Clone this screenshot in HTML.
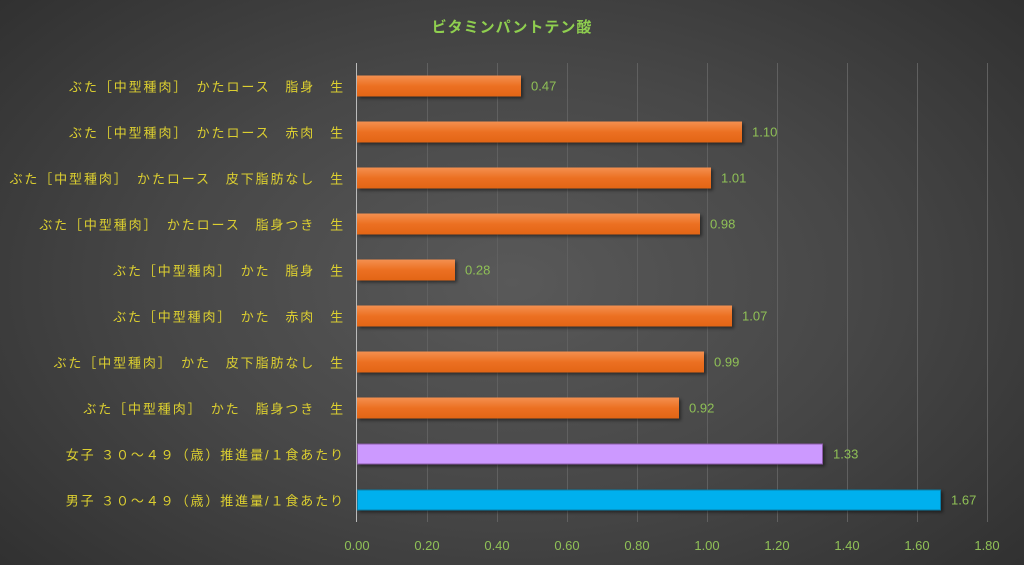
<!DOCTYPE html>
<html><head><meta charset="utf-8"><style>
html,body{margin:0;padding:0}
body{width:1024px;height:565px;overflow:hidden;background:radial-gradient(ellipse 75% 85% at 50% 50%,#595959 0%,#474747 45%,#2b2b2b 100%);font-family:"Liberation Sans","Noto Sans CJK JP",sans-serif;position:relative}
.t{position:absolute;left:0;width:1024px;top:16px;text-align:center;color:#8fcf4f;font-size:15px;font-weight:bold;letter-spacing:1px}
.g{position:absolute;top:63px;height:459px;width:1px;background:#606060}
.lab{position:absolute;right:679px;color:#dccf30;font-size:13px;letter-spacing:1.9px;white-space:nowrap;transform:translateY(-50%)}
.bar{position:absolute;left:357px;height:21px;transform:translateY(-50%);box-shadow:2px 2px 3px rgba(0,0,0,.45)}
.o{background:linear-gradient(#f49050,#ec7022 50%,#e26515)}
.v{position:absolute;color:#8fc056;font-size:13px;transform:translateY(-50%)}
.x{position:absolute;top:538px;color:#8fc056;font-size:13px;transform:translateX(-50%)}
</style></head><body>
<div class="t">ビタミンパントテン酸</div>
<div class="g" style="left:427px"></div><div class="g" style="left:497px"></div><div class="g" style="left:567px"></div><div class="g" style="left:637px"></div><div class="g" style="left:707px"></div><div class="g" style="left:777px"></div><div class="g" style="left:847px"></div><div class="g" style="left:917px"></div><div class="g" style="left:987px"></div>
<div class="g" style="left:356px;background:#bbb;width:1px"></div>

<div class="lab" style="top:86px">ぶた［中型種肉］　かたロース　脂身　生</div>
<div class="bar o" style="top:86px;width:164px"></div><div class="v" style="top:86px;left:531px">0.47</div>
<div class="lab" style="top:132px">ぶた［中型種肉］　かたロース　赤肉　生</div>
<div class="bar o" style="top:132px;width:385px"></div><div class="v" style="top:132px;left:752px">1.10</div>
<div class="lab" style="top:178px">ぶた［中型種肉］　かたロース　皮下脂肪なし　生</div>
<div class="bar o" style="top:178px;width:354px"></div><div class="v" style="top:178px;left:721px">1.01</div>
<div class="lab" style="top:224px">ぶた［中型種肉］　かたロース　脂身つき　生</div>
<div class="bar o" style="top:224px;width:343px"></div><div class="v" style="top:224px;left:710px">0.98</div>
<div class="lab" style="top:270px">ぶた［中型種肉］　かた　脂身　生</div>
<div class="bar o" style="top:270px;width:98px"></div><div class="v" style="top:270px;left:465px">0.28</div>
<div class="lab" style="top:316px">ぶた［中型種肉］　かた　赤肉　生</div>
<div class="bar o" style="top:316px;width:375px"></div><div class="v" style="top:316px;left:742px">1.07</div>
<div class="lab" style="top:362px">ぶた［中型種肉］　かた　皮下脂肪なし　生</div>
<div class="bar o" style="top:362px;width:347px"></div><div class="v" style="top:362px;left:714px">0.99</div>
<div class="lab" style="top:408px">ぶた［中型種肉］　かた　脂身つき　生</div>
<div class="bar o" style="top:408px;width:322px"></div><div class="v" style="top:408px;left:689px">0.92</div>
<div class="lab" style="top:454px">女子 ３０～４９（歳）推進量/１食あたり</div>
<div class="bar" style="top:454px;width:466px;background:#cc99ff;border:1px solid #8a5aa8;box-sizing:border-box"></div><div class="v" style="top:454px;left:833px">1.33</div>
<div class="lab" style="top:500px">男子 ３０～４９（歳）推進量/１食あたり</div>
<div class="bar" style="top:500px;width:584px;background:#00b0ee;border:1px solid #0a7fa8;box-sizing:border-box"></div><div class="v" style="top:500px;left:951px">1.67</div>

<div class="x" style="left:357px">0.00</div><div class="x" style="left:427px">0.20</div><div class="x" style="left:497px">0.40</div><div class="x" style="left:567px">0.60</div><div class="x" style="left:637px">0.80</div><div class="x" style="left:707px">1.00</div><div class="x" style="left:777px">1.20</div><div class="x" style="left:847px">1.40</div><div class="x" style="left:917px">1.60</div><div class="x" style="left:987px">1.80</div>
</body></html>
